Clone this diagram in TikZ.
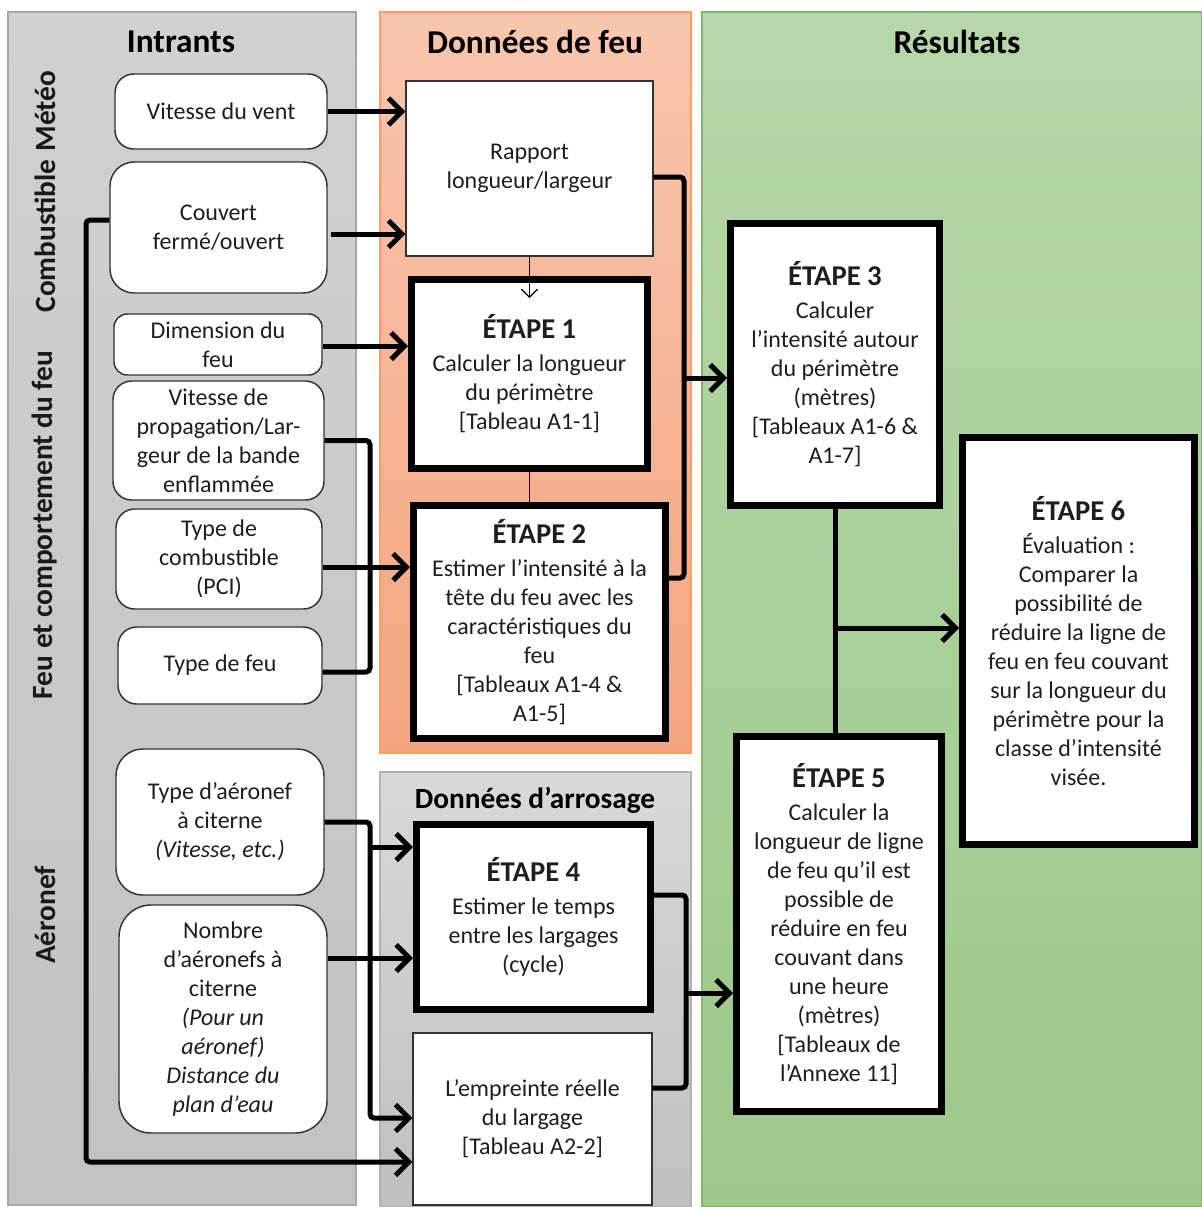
\documentclass[tikz,border=0pt]{standalone}
\usepackage{fontspec}
\setmainfont{Carlito}
\usetikzlibrary{arrows.meta,calc}
\definecolor{txt}{HTML}{1E1E1E}
\begin{document}
\begin{tikzpicture}[x=0.75pt,y=-0.75pt,
  every node/.style={font=\fontsize{18}{21.75}\selectfont, align=center, inner sep=0pt, text=txt},
  sz/.style 2 args={minimum width=#1*0.75pt, minimum height=#2*0.75pt},
  inbox/.style={draw=black!80, line width=1.1pt, rounded corners=14pt, fill=white},
  thinbox/.style={draw=black!80, line width=1pt, fill=white},
  stepbox/.style={draw=black, line width=5.25pt, fill=white},
  ttl/.style={font=\fontsize{25}{29}\selectfont\bfseries, text=black},
  side/.style={font=\fontsize{22}{26}\selectfont\bfseries, text=black!90, rotate=90},
  conn/.style={line width=3.75pt, rounded corners=3pt},
  arr/.style={conn, -{Straight Barb[length=10pt,width=20pt]}},
  hd/.style={},
]
\useasboundingbox (0,0) rectangle (1202,1207);
% panels
\path[draw=black!35, line width=0.8pt, top color=black!18, bottom color=black!24] (8,12) rectangle (356,1205);
\path[draw=orange!70!red!60, line width=0.8pt, top color={rgb,255:red,248;green,198;blue,174}, bottom color={rgb,255:red,244;green,165;blue,126}] (380,12) rectangle (691,753);
\path[draw=black!30, line width=0.8pt, top color=black!15, bottom color=black!25] (380,772) rectangle (691,1207);
\path[draw={rgb,255:red,128;green,183;blue,106}, line width=0.8pt, top color={rgb,255:red,182;green,215;blue,168}, bottom color={rgb,255:red,157;green,200;blue,139}] (702,12) rectangle (1202,1207);

% titles
\node[ttl] (tin) at (181,42) {Intrants};
\node[ttl] (tfeu) at (535,42) {Données de feu};
\node[ttl] (tres) at (957,42) {Résultats};
\node[ttl, font=\fontsize{22}{26}\selectfont\bfseries] (tarr) at (535,800) {Données d’arrosage};
\node[side] (smet) at (45,111) {Météo};
\node[side] (scomb) at (45,236) {Combustible};
\node[side] (sfeu) at (45,525) {Feu et comportement du feu};
\node[side] (saer) at (45,915) {Aéronef};

% input boxes
\node[inbox, sz={212}{75}] (wind) at (221,111.5) {Vitesse du vent};
\node[inbox, sz={217}{131}, rounded corners=18pt] (couvert) at (218.5,227.5) {Couvert\\fermé/ouvert};
\node[inbox, sz={208}{61}, rounded corners=10pt] (dim) at (218,344.5) {Dimension du\\feu};
\node[inbox, sz={211}{119}] (vitprop) at (218.5,440.5) {Vitesse de\\propagation/Lar-\\geur de la bande\\enflammée};
\node[inbox, sz={206}{100}] (typecomb) at (219,559) {Type de\\combustible\\(PCI)};
\node[inbox, sz={204}{77}] (typefeu) at (220,665.5) {Type de feu};
\node[inbox, sz={208}{146}, rounded corners=20pt] (typeaero) at (220,822) {Type d’aéronef\\à citerne\\\textit{(Vitesse, etc.)}};
\node[inbox, sz={208}{228}, rounded corners=24pt] (nombre) at (223,1019) {Nombre\\d’aéronefs à\\citerne\\\textit{(Pour un}\\\textit{aéronef)}\\\textit{Distance du}\\\textit{plan d’eau}};

% middle boxes
\node[thinbox, sz={247}{175}] (rapport) at (529.5,168.5) {Rapport\\longueur/largeur};
\node[stepbox, sz={236}{189}] (e1) at (529.5,374) {{\fontsize{21.5}{24}\selectfont\bfseries ÉTAPE 1}\\[3pt]Calculer la longueur\\du périmètre\\{}[Tableau A1-1]};
\node[stepbox, sz={252}{233}] (e2) at (539.5,622) {{\fontsize{21.5}{24}\selectfont\bfseries ÉTAPE 2}\\[3pt]Estimer l’intensité à la\\tête du feu avec les\\caractéristiques du\\feu\\{}[Tableaux A1-4 \&\\A1-5]};
\node[stepbox, sz={234}{185}] (e4) at (533.5,917) {{\fontsize{21.5}{24}\selectfont\bfseries ÉTAPE 4}\\[3pt]Estimer le temps\\entre les largages\\(cycle)};
\node[thinbox, sz={239}{172}] (empreinte) at (532.5,1119) {L’empreinte réelle\\du largage\\{}[Tableau A2-2]};

% right boxes
\node[stepbox, sz={209}{282}] (e3) at (835,364.5) {{\fontsize{21.5}{24}\selectfont\bfseries ÉTAPE 3}\\[3pt]Calculer\\l’intensité autour\\du périmètre\\(mètres)\\{}[Tableaux A1-6 \&\\A1-7]};
\node[stepbox, sz={205}{375}] (e5) at (839,924) {{\fontsize{21.5}{24}\selectfont\bfseries ÉTAPE 5}\\[3pt]Calculer la\\longueur de ligne\\de feu qu’il est\\possible de\\réduire en feu\\couvant dans\\une heure\\(mètres)\\{}[Tableaux de\\l’Annexe 11]};
\node[stepbox, sz={232}{407}] (e6) at (1078.5,641) {{\fontsize{21.5}{24}\selectfont\bfseries ÉTAPE 6}\\[3pt]Évaluation :\\Comparer la\\possibilité de\\réduire la ligne de\\feu en feu couvant\\sur la longueur du\\périmètre pour la\\classe d’intensité\\visée.};

% junction coordinates
\coordinate (b1) at (684,378);
\coordinate (b2) at (370,567);
\coordinate (b3) at (370,847);
\coordinate (b4) at (86,700);
\coordinate (b5) at (686,993);
\coordinate (b6) at (837,628);
\coordinate (t1) at ($(e1.north)+(0,22)$);
\coordinate (c1) at ($(couvert.east)+(3,6.5)$);
\coordinate (c2) at ($(dim.east)+(0,1.5)$);

% connectors
\draw[arr] (wind.east) -- (wind.east -| rapport.west);
\draw[arr] (c1) -- (c1 -| rapport.west);
\draw[arr] (c2) -- (c2 -| e1.west);
\draw[conn] (vitprop.east) -| (b2) |- ($(typefeu.east)+(0,6.5)$);
\draw[arr] ($(typecomb.east)+(0,8)$) -- ($(e2.west)+(0,-55)$);
\draw[line width=0.9pt, -{Straight Barb[length=6pt,width=12pt,line width=0.9pt]}] (rapport.south) -- (t1);
\draw[line width=0.9pt] (e1.south) -- (e1.south |- e2.north);
\draw[conn] ($(rapport.east)+(0,8.5)$) -| (b1) |- ($(e2.east)+(0,-44)$);
\draw[arr] (b1) -- (b1 -| e3.west);
\draw[arr] ($(couvert.west)+(0,-7.5)$) -| (b4) |- ($(empreinte.west)+(0,43)$);
\draw[arr] (typeaero.east) -| (b3) |- ($(empreinte.west)+(0,-1)$);
\draw[arr] (b3) -- (b3 -| e4.west);
\draw[arr] ($(nombre.east)+(0,-61)$) -- ($(e4.west)+(0,41)$);
\draw[conn] ($(e4.east)+(0,-22)$) -| (b5) |- ($(empreinte.east)+(0,-31)$);
\draw[arr] (b5) -- (b5 -| e5.west);
\draw[conn] (e3.south) -- (e3.south |- e5.north);
\draw[arr] (b6) -- (b6 -| e6.west);
\end{tikzpicture}
\end{document}
